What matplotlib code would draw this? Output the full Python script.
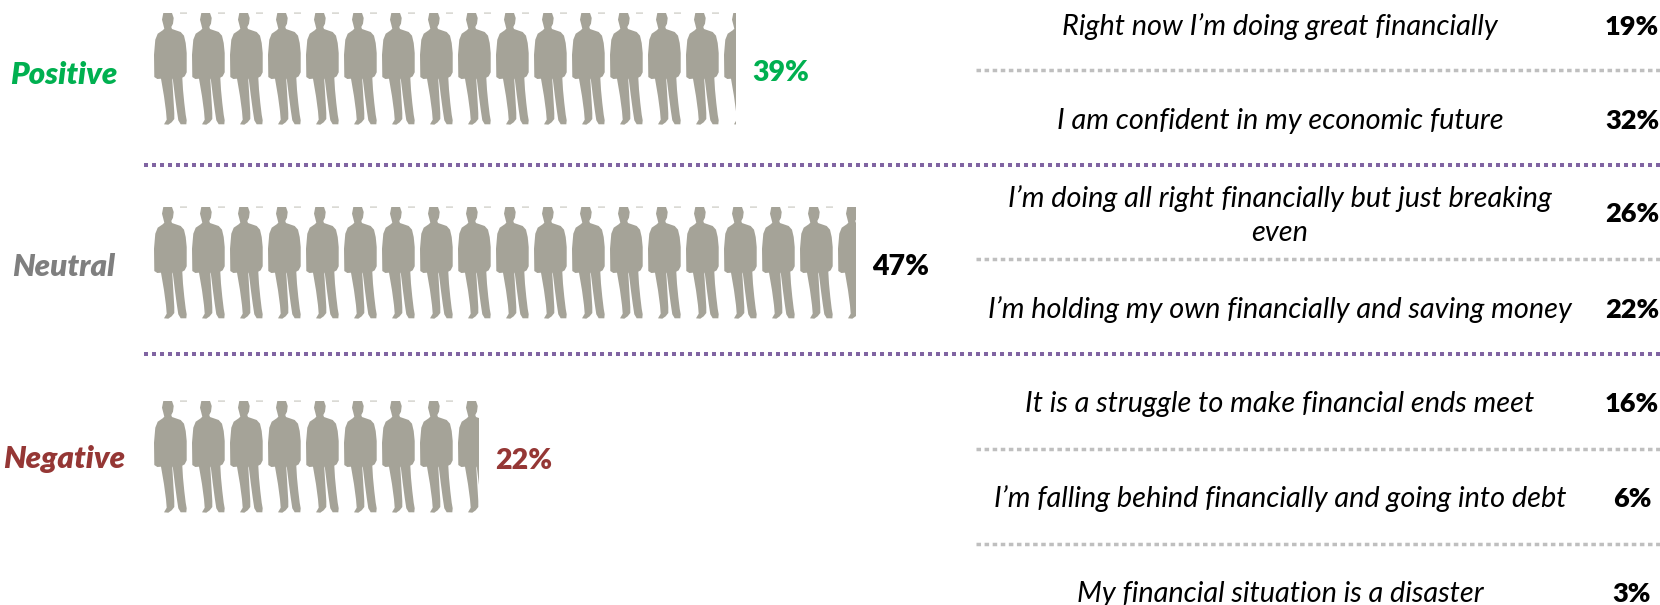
import numpy as np
import matplotlib
matplotlib.use('Agg')
import matplotlib.pyplot as plt
from matplotlib.patches import PathPatch, Rectangle
from matplotlib.path import Path
from matplotlib.transforms import Affine2D

plt.rcParams['font.family'] = ['Lato', 'DejaVu Sans']

# left side, overall groups
groups = ['Positive', 'Neutral', 'Negative']
group_values = [39, 47, 22]
group_fill = [39, 47, 21.8]

# right side, statements
statements = [
    'Right now I’m doing great financially',
    'I am confident in my economic future',
    'I’m doing all right financially but just breaking\neven',
    'I’m holding my own financially and saving money',
    'It is a struggle to make financial ends meet',
    'I’m falling behind financially and going into debt',
    'My financial situation is a disaster',
]
statement_values = [19, 32, 26, 22, 16, 6, 3]

# styles and layout, in pixels of the 1660x605 picture
W, H = 1660, 605
group_colors = ['#00B050', '#7F7F7F', '#953735']
label_colors = ['#00B050', '#000000', '#953735']
person_color = '#A5A398'
row_tops = [13, 207, 401]
group_y = [84, 276, 468]
value_y = [81, 275, 469]
statement_y = [35, 129, 241, 318, 411.7, 506.7, 601.7]
percent_y = [35, 129, 222, 318, 411.7, 506.7, 601.7]
major_lines = [164.5, 353.5]
minor_lines = [69.5, 258.5, 448.5, 543.5]
PX_PER_PCT = 14.93
PITCH = 38
PERSON_H = 112

# one man: pixels from the top left of his box
outline = np.array([
    (9.3, 0), (18, 0), (19.7, 5), (19, 10.7), (17.3, 14), (18, 16), (26.7, 19),
    (30, 22.7), (31.7, 30), (32.7, 40), (32.7, 59.3), (30.7, 63.3), (28.3, 64.7),
    (29, 76.7), (30.3, 90), (31.7, 101.7), (32.7, 107.3), (32.3, 111.3), (26.7, 111.3),
    (24.3, 107.3), (22.7, 96.7), (20.7, 81.7), (18.7, 65.3), (18.3, 66.7), (19.3, 83.3),
    (20.3, 100), (20.3, 106), (17.7, 109.3), (14.3, 111.7), (10, 111.3), (12.7, 106.7),
    (12, 98.3), (10, 83.3), (7, 65.7), (3.3, 66), (0.3, 64), (0, 41.7), (1.3, 26.7),
    (3.7, 20.7), (8.7, 17.3), (10.3, 15.7), (9.3, 11.7), (8, 6.7),
])
dash = np.array([(26, -0.3), (33, -0.3), (33, 0.4), (26, 0.4)])


def closed(pts):
    codes = [Path.MOVETO] + [Path.LINETO] * (len(pts) - 1)
    return list(map(tuple, pts)) + [(0, 0)], codes + [Path.CLOSEPOLY]


v1, c1 = closed(outline)
v2, c2 = closed(dash)
person = Path(v1 + v2, c1 + c2)

fig = plt.figure(figsize=(W / 100, H / 100), dpi=100)
ax = fig.add_axes([0, 0, 1, 1])
ax.set_xlim(0, W)
ax.set_ylim(H, 0)
ax.axis('off')

# pictogram axes: x runs in percent
left = 154
pic = fig.add_axes([left / W, 0, (W - left) / W, 1])
pic.set_xlim(0, (W - left) / PX_PER_PCT)
pic.set_ylim(H, 0)
pic.axis('off')

for top, fill in zip(row_tops, group_fill):
    clip = Rectangle((0, top - 1), fill, PERSON_H + 2, transform=pic.transData)
    step = PITCH / PX_PER_PCT
    for i in range(int(np.ceil(fill / step))):
        tr = Affine2D().scale(1 / PX_PER_PCT, 1).translate(i * step, top)
        patch = PathPatch(person, facecolor=person_color, edgecolor='none',
                          transform=tr + pic.transData)
        pic.add_patch(patch)
        patch.set_clip_path(clip)

for name, color, y in zip(groups, group_colors, group_y):
    ax.text(64, y, name, color=color, fontsize=22.5, fontweight='heavy', style='italic',
            ha='center', va='baseline')

for value, fill, color, y in zip(group_values, group_fill, label_colors, value_y):
    pic.text(fill + 16 / PX_PER_PCT, y, f'{value}%', color=color, fontsize=20.5,
             fontweight='heavy', ha='left', va='baseline')

for text, y in zip(statements, statement_y):
    ax.text(1280, y, text, fontsize=20.8, style='italic', color='black', ha='center',
            va='baseline', linespacing=1.38)

for value, y in zip(statement_values, percent_y):
    ax.text(1632, y, f'{value}%', fontsize=19.5, fontweight='heavy', color='black',
            ha='center', va='baseline')

for y in major_lines:
    ax.plot([144, W], [y, y], color='#8064A2', lw=2.88, dashes=(1, 1), dash_capstyle='butt')
for y in minor_lines:
    ax.plot([976, W], [y, y], color='#BFBFBF', lw=2.5, dashes=(1.3, 1.03), dash_capstyle='butt')

fig.savefig('out.png', dpi=100)
